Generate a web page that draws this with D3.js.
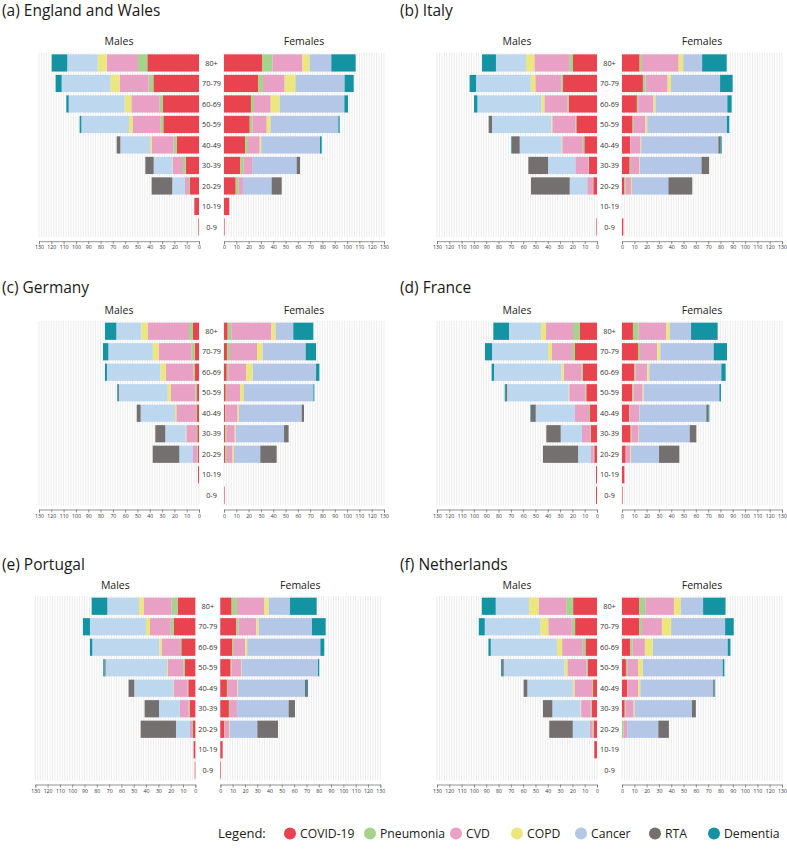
<!DOCTYPE html>
<html><head><meta charset="utf-8">
<script src="https://cdn.jsdelivr.net/npm/d3@7"></script>
<style>body{margin:0;background:#fff;} svg{display:block;font-family:"Open Sans",sans-serif;}</style>
</head><body><svg id="c" width="787" height="854"></svg>
<script>
const ages = ["80+","70-79","60-69","50-59","40-49","30-39","20-29","10-19","0-9"];
const causes = ["COVID-19","Pneumonia","CVD","COPD","Cancer","RTA","Dementia"];
const tickValues = [0,10,20,30,40,50,60,70,80,90,100,110,120,130];
const titles = ["(a) England and Wales","(b) Italy","(c) Germany","(d) France","(e) Portugal","(f) Netherlands"];

// rows = age groups (80+ ... 0-9), columns = causes in order above
const englandMales = [
 [42.0,7.6,25.4,7.3,24.7,0,12.7],[37.1,3.8,23.6,7.5,39.6,0,4.9],[29.5,2.7,22.8,5.4,45.5,0,1.9],
 [29.0,2.4,22.5,3.0,38.7,0,1.4],[18.1,2.5,17.9,1.3,24.1,3.0,0],[10.8,2.2,8.4,0.3,15.1,6.8,0],
 [7.3,0.8,3.3,0,10.3,16.8,0],[3.8,0,0,0,0,0,0],[0.5,0,0,0,0,0,0]];
const englandFemales = [
 [30.9,8.6,24.2,5.9,17.6,0,19.8],[27.9,3.8,17.6,8.9,39.8,0,7.4],[21.9,2.5,13.5,7.3,52.6,0,3.0],
 [20.9,2.1,11.7,3.2,55.0,0,1.1],[17.3,2.2,9.5,1.3,47.7,0,1.4],[13.3,2.7,6.8,0,36.2,2.8,0],
 [9.5,2.4,3.5,0,23.3,8.2,0],[4.3,0,0,0,0,0,0],[0.5,0,0,0,0,0,0]];
const italyMales = [
 [19.5,3.0,28.4,6.8,24.4,0,11.3],[27.6,1.4,21.1,3.8,44.4,0,5.2],[23.0,1.1,18.7,2.4,52.0,0,2.7],
 [16.8,0.8,18.7,0.8,48.2,2.7,0],[10.3,1.3,16.6,0.5,34.1,6.5,0.5],[6.5,0.5,10.6,0,22.2,16.0,0],
 [3.0,0.3,4.6,0,14.3,31.4,0],[0,0,0,0,0,0,0],[0.5,0,0,0,0,0,0]];
const italyFemales = [
 [14.3,1.9,29.8,3.8,15.3,0,20.0],[17.0,2.1,18.0,2.7,39.9,0,10.2],[12.1,1.1,12.4,1.6,58.4,0,3.5],
 [8.6,1.1,9.4,1.4,64.8,0,1.9],[6.5,0.3,8.3,0.5,62.7,1.9,0.8],[6.2,1.1,6.7,0.5,50.1,6.2,0],
 [1.9,1.1,4.3,0.8,29.6,19.4,0],[0,0,0,0,0,0,0],[1.1,0,0,0,0,0,0]];
const germanyMales = [
 [4.9,3.2,33.6,5.2,20.3,0,9.2],[3.5,2.7,26.6,4.8,36.1,0,4.3],[3.3,1.3,22.5,4.3,43.4,0,1.6],
 [1.6,1.4,19.8,2.7,39.5,0.7,0.7],[1.6,0.8,16.0,1.1,27.9,3.2,0],[1.4,1.0,7.9,0.5,16.6,8.1,0],
 [0.8,0.5,3.6,0,11.1,21.6,0],[0.8,0,0,0,0,0,0],[0,0,0,0,0,0,0]];
const germanyFemales = [
 [3.0,3.0,32.5,3.5,14.3,0,16.3],[2.4,2.5,21.9,4.6,35.0,0,8.4],[2.2,1.3,14.4,5.4,51.5,0,2.7],
 [1.4,1.0,10.6,3.0,56.6,0,0.8],[1.1,0.5,9.5,1.1,50.9,1.9,0],[1.1,1.1,6.5,0.8,39.3,3.7,0],
 [1.1,1.3,4.6,1.1,21.4,13.3,0],[0,0,0,0,0,0,0],[0.5,0,0,0,0,0,0]];
const franceMales = [
 [14.1,5.4,21.9,4.1,26.0,0,12.7],[17.9,2.4,16.3,3.2,45.5,0,5.7],[11.6,1.1,14.4,1.9,54.7,0,1.9],
 [8.7,0.8,13.0,0.5,50.1,1.0,0.9],[5.7,0.8,11.4,0,31.9,3.8,0.5],[5.1,0.6,6.5,0,17.3,11.7,0],
 [2.2,0.5,2.2,0,10.5,28.5,0],[0.8,0,0,0,0,0,0],[0.8,0,0,0,0,0,0]];
const franceFemales = [
 [8.9,4.6,22.3,2.9,17.4,0,21.6],[13.0,1.6,14.1,2.4,43.4,0,10.8],[9.8,1.0,9.8,1.6,58.5,0,3.5],
 [8.4,1.1,7.3,0.8,61.5,0,1.3],[5.7,0.5,7.6,0.3,54.4,1.7,0.8],[7.0,0.9,5.6,0.3,41.2,5.4,0],
 [3.0,0.3,3.5,0.5,22.8,16.5,0],[1.9,0,0,0,0,0,0],[0.5,0,0,0,0,0,0]];
const portugalMales = [
 [14.4,4.8,22.8,3.8,25.7,0,12.7],[17.6,2.4,16.8,3.3,45.5,0,5.7],[11.4,1.1,14.9,1.9,54.4,0,1.9],
 [8.4,1.4,12.4,0.8,49.9,0.9,1.0],[5.7,0.5,11.4,0.3,31.7,4.6,0],[4.6,0.8,7.1,0,17.0,11.7,0],
 [1.9,0.8,1.6,0,11.4,28.7,0],[1.4,0,0,0,0,0,0],[0.5,0,0,0,0,0,0]];
const portugalFemales = [
 [9.2,4.3,22.3,3.5,17.3,0,21.7],[13.0,1.9,14.4,1.8,43.4,0,11.1],[9.8,1.3,9.2,1.6,59.4,0,3.2],
 [8.4,0.8,7.6,0.5,62.1,0,1.0],[5.4,0.8,7.6,0.5,54.5,1.6,0.8],[7.0,0.9,5.6,0,42.0,5.2,0],
 [3.3,0.3,3.7,0.5,22.3,16.8,0],[1.9,0,0,0,0,0,0],[0.5,0,0,0,0,0,0]];
const netherlandsMales = [
 [19.4,5.7,22.4,7.8,27.0,0,11.3],[17.8,2.7,19.1,6.5,45.1,0,4.8],[9.4,2.2,16.7,4.3,53.7,0,1.9],
 [7.3,1.1,15.6,2.4,49.4,1.3,0.8],[3.2,0.8,14.3,1.4,36.9,3.0,0],[4.3,0.8,7.8,0.5,22.9,7.6,0],
 [2.7,0.8,2.4,0,13.8,19.1,0],[2.2,0,0,0,0,0,0],[0,0,0,0,0,0,0]];
const netherlandsFemales = [
 [13.8,5.1,23.3,5.6,18.1,0,18.2],[13.8,2.4,16.2,7.6,43.8,0,7.0],[6.8,1.6,10.2,6.5,60.8,0,2.2],
 [3.2,1.4,8.4,3.8,65.1,0,1.3],[4.1,0.3,8.8,1.7,59.2,1.1,0.5],[2.2,0.8,6.5,0.8,46.5,3.2,0],
 [0,1.4,2.9,0,25.2,8.6,0],[0,0,0,0,0,0,0],[0,0,0,0,0,0,0]];

const maleColors = ["#e8434e","#a6d38b","#e8a0c5","#ece67f","#bdd7ee","#747070","#1493a2"];
const femaleColors = ["#e8434e","#a6d38b","#e8a0c5","#ece67f","#b4c7e7","#747070","#1493a2"];

const panelData = [
 [englandMales, englandFemales],[italyMales, italyFemales],
 [germanyMales, germanyFemales],[franceMales, franceFemales],
 [portugalMales, portugalFemales],[netherlandsMales, netherlandsFemales]];

const svg = d3.select("#c");
const colOffsets = [0, 398];
const rowTops = [52.7, 321, 596];
const titleY = [16, 293, 570];
const extraShift = [0,0,0,0,-3.7,0];
const step = 20.5;

panelData.forEach((pd, i) => {
  const col = i % 2, row = Math.floor(i / 2);
  const dx = colOffsets[col] + extraShift[i];
  const top = rowTops[row];
  const g = svg.append("g");

  g.append("text").attr("x", 2 + colOffsets[col]).attr("y", titleY[row])
    .attr("font-size", 15.5).attr("fill", "#1a1a1a").text(titles[i]);

  const y = d3.scaleBand().domain(ages).range([top, top + 9 * step]).paddingInner(0.16).paddingOuter(0.08);
  const xm = d3.scaleLinear().domain([0,130]).range([199 + dx, 39 + dx]);
  const xf = d3.scaleLinear().domain([0,130]).range([224 + dx, 384 + dx]);

  [[xm, pd[0], maleColors, "Males"], [xf, pd[1], femaleColors, "Females"]].forEach(([x, data, colors, label]) => {
    // grid
    g.append("g").selectAll("line").data(d3.range(0, 131, 2)).join("line")
      .attr("x1", d => x(d)).attr("x2", d => x(d))
      .attr("y1", top).attr("y2", top + 9 * step)
      .attr("stroke", "#e4e4e4").attr("stroke-width", 0.7);
    // axis
    const ax = g.append("g").attr("transform", `translate(0,${top + 9 * step + 4})`)
      .call(d3.axisBottom(x).tickValues(tickValues).tickSizeOuter(0).tickSize(3).tickPadding(1.5));
    ax.select(".domain").attr("stroke", "#777").attr("stroke-width", 0.8);
    ax.selectAll(".tick line").attr("stroke", "#777").attr("stroke-width", 0.8);
    ax.selectAll(".tick text").attr("font-size", 5.2).attr("fill", "#333").attr("font-family", "Open Sans, sans-serif");
    // label
    const [a, b] = x.range();
    g.append("text").attr("x", (a + b) / 2).attr("y", top - 7.5).attr("text-anchor", "middle")
      .attr("font-size", 10.5).attr("fill", "#222").text(label);
    // bars
    const rows = data.map((r, k) => { const o = {age: ages[k]}; causes.forEach((c, j) => o[c] = r[j]); return o; });
    const series = d3.stack().keys(causes)(rows);
    series.forEach((s, j) => {
      g.append("g").selectAll("rect").data(s.filter(d => d[1] - d[0] > 0)).join("rect")
        .attr("x", d => Math.min(x(d[0]), x(d[1])))
        .attr("width", d => Math.abs(x(d[1]) - x(d[0])))
        .attr("y", d => y(d.data.age)).attr("height", y.bandwidth())
        .attr("fill", colors[j]);
    });
  });
  // age labels
  g.append("g").selectAll("text").data(ages).join("text")
    .attr("x", 211.5 + dx).attr("y", d => y(d) + y.bandwidth() / 2 + 2.6)
    .attr("text-anchor", "middle").attr("font-size", 7.3).attr("fill", "#333").text(d => d);
});

// legend
const legendX = [290, 370, 456, 517, 581, 655, 714];
const lg = svg.append("g");
lg.append("text").attr("x", 218).attr("y", 838).attr("font-size", 13).attr("fill", "#222").text("Legend:");
causes.forEach((c, j) => {
  lg.append("circle").attr("cx", legendX[j]).attr("cy", 833.5).attr("r", 6).attr("fill", femaleColors[j]);
  lg.append("text").attr("x", legendX[j] + 10).attr("y", 838).attr("font-size", 12.2).attr("fill", "#222").text(c);
});
</script></body></html>
